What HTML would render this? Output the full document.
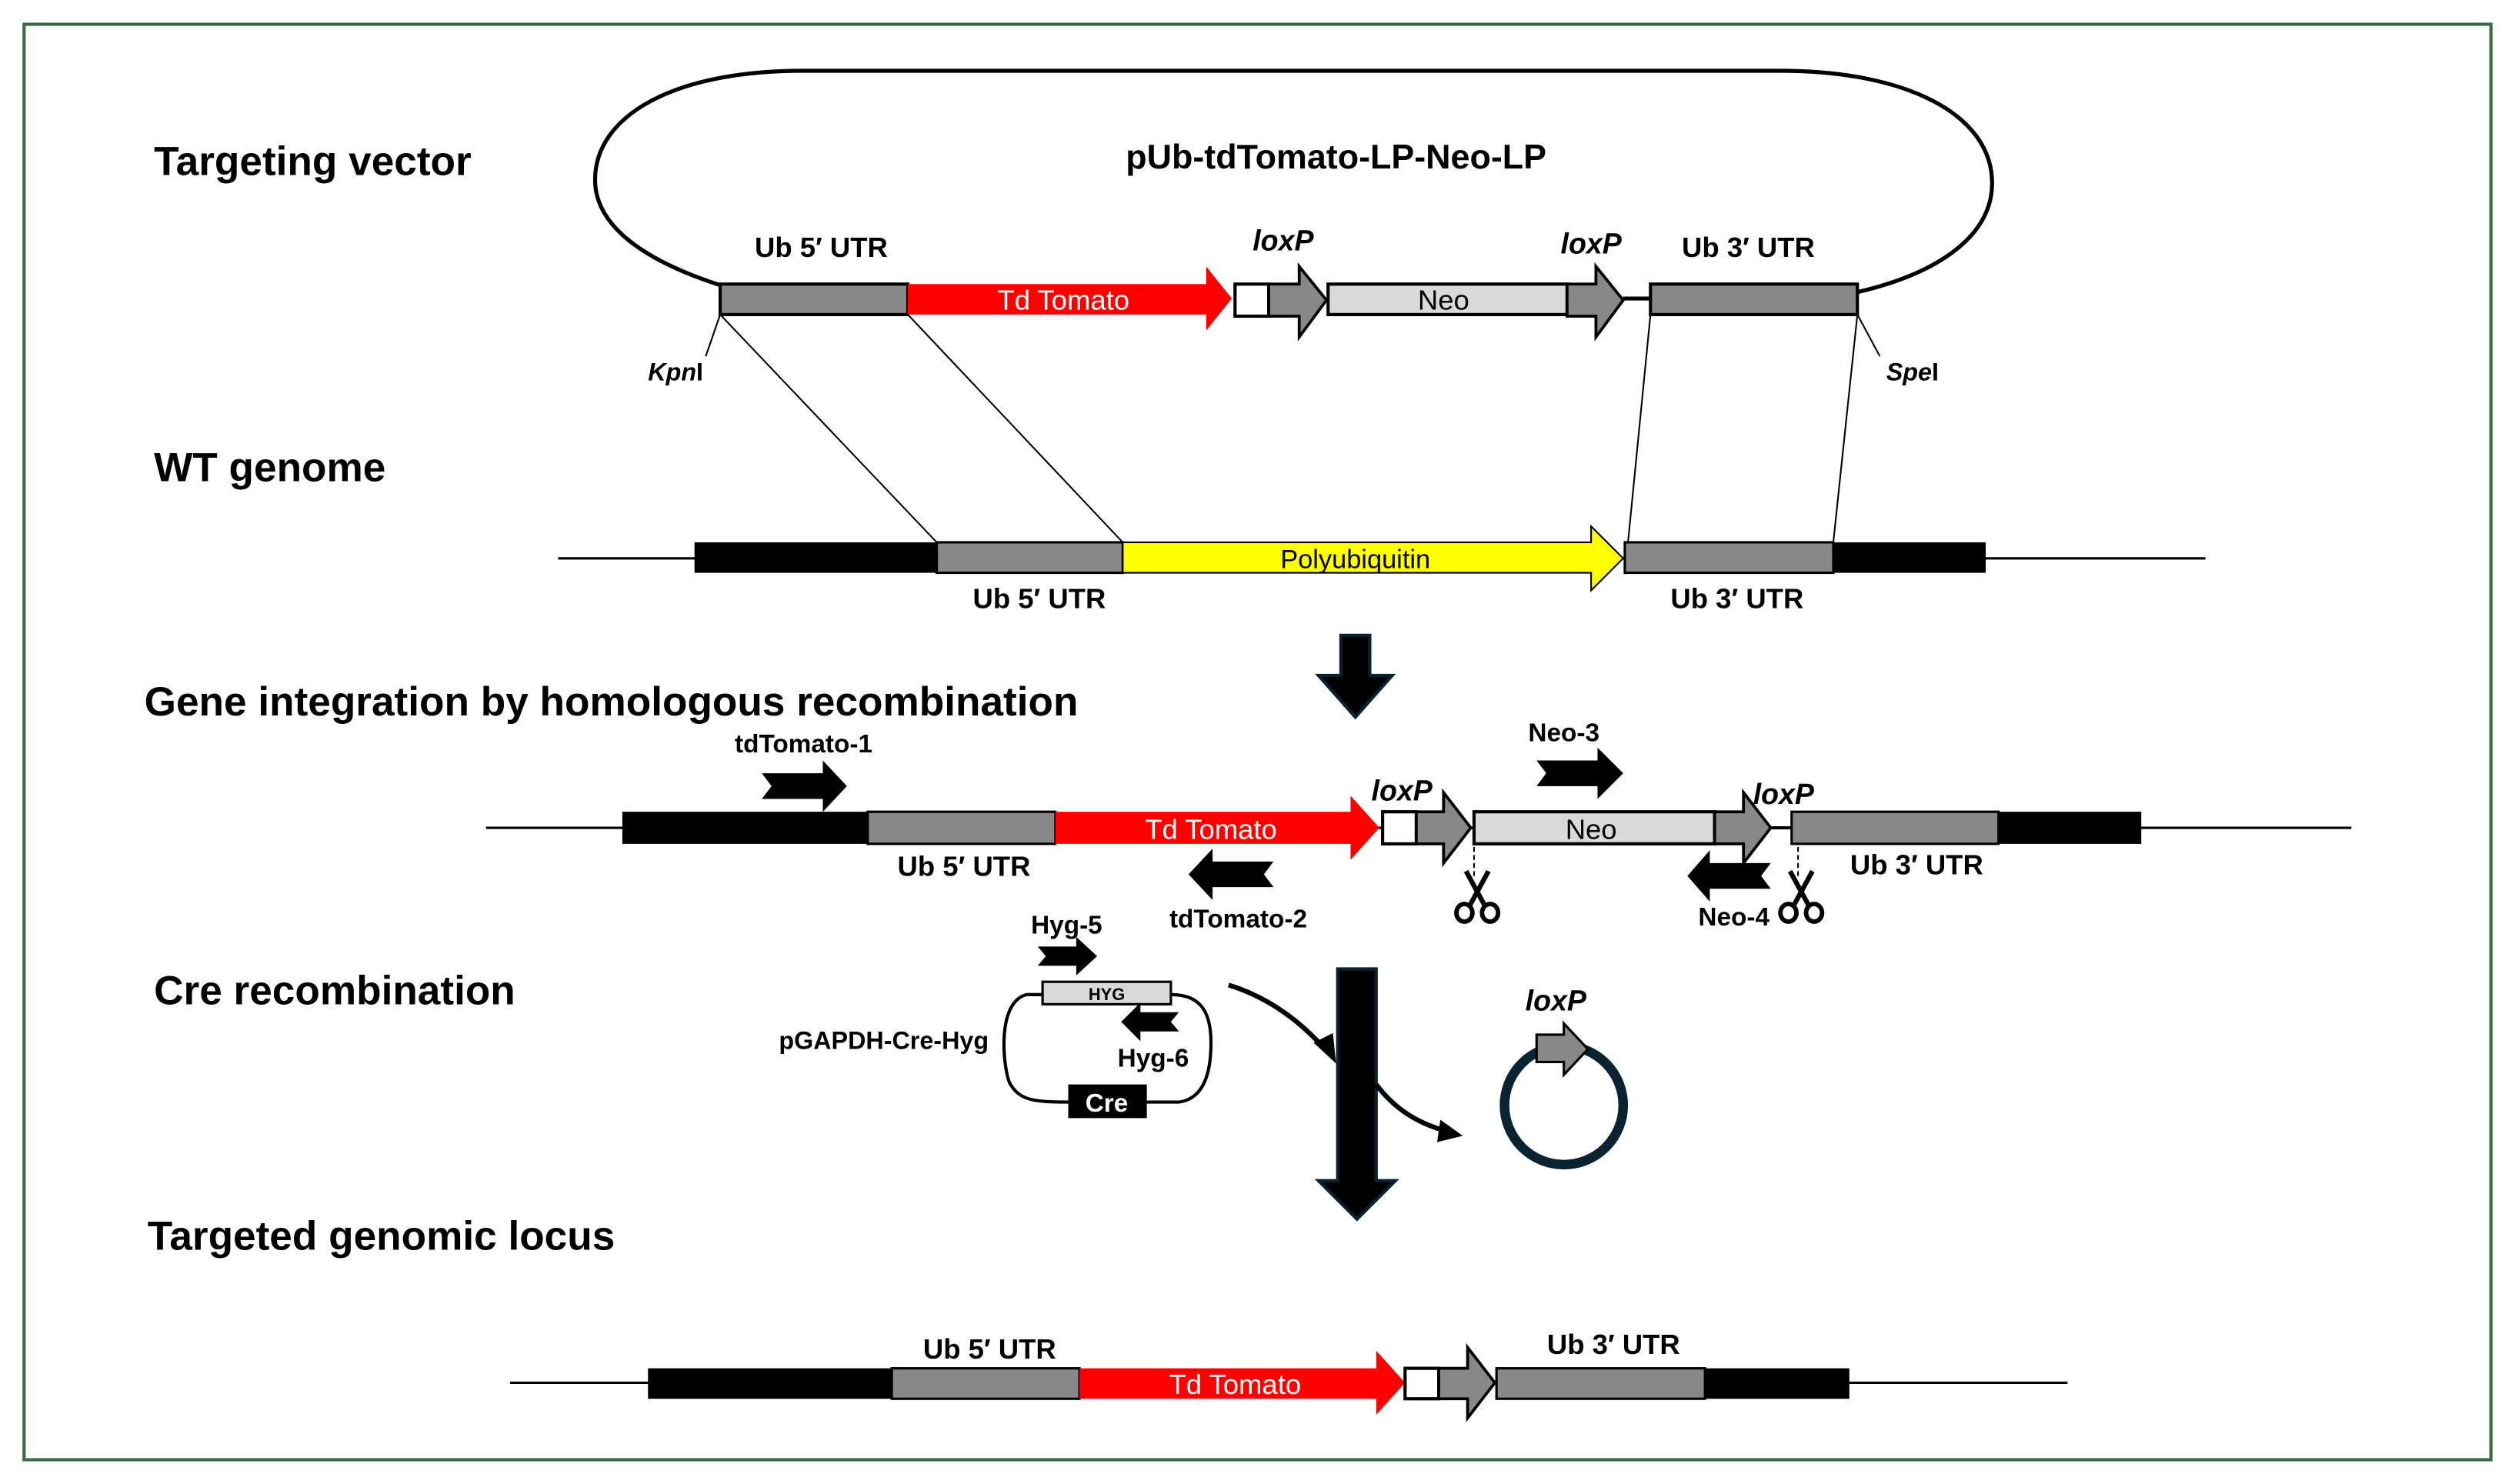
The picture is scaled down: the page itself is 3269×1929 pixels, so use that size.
<!DOCTYPE html>
<html><head><meta charset="utf-8"><style>
html,body{margin:0;padding:0;background:#fff}
svg{display:block}
text{font-family:"Liberation Sans",Arial,sans-serif}
.t{font-size:25.5px;font-weight:bold}
.l{font-size:17.5px;font-weight:bold}
.p{font-size:16px;font-weight:bold}
.i{font-size:18px;font-weight:bold;font-style:italic}
</style></head><body>
<svg width="3269" height="1929" viewBox="0 0 1568 925" xmlns="http://www.w3.org/2000/svg">
<defs>
<g id="sc">
 <line x1="-7" y1="-16" x2="5" y2="6" stroke="#000" stroke-width="3"/>
 <line x1="7" y1="-16" x2="-5" y2="6" stroke="#000" stroke-width="3"/>
 <ellipse cx="-8" cy="10" rx="5" ry="5.5" fill="none" stroke="#000" stroke-width="2.8"/>
 <ellipse cx="8" cy="10" rx="5" ry="5.5" fill="none" stroke="#000" stroke-width="2.8"/>
</g>
</defs>
<rect x="0" y="0" width="1568" height="925" fill="#fff"/>
<rect x="15" y="15" width="1538" height="895" fill="none" stroke="#3a6b45" stroke-width="2"/>

<text class="t" x="96" y="109">Targeting vector</text>
<text class="t" x="96" y="300">WT genome</text>
<text class="t" x="90" y="446">Gene integration by homologous recombination</text>
<text class="t" x="96" y="626">Cre recombination</text>
<text class="t" x="92" y="779">Targeted genomic locus</text>

<path d="M450,178 C400,162 371,140 371,112 C371,72 420,44 500,44 L1110,44 C1190,44 1242,72 1242,114 C1242,146 1210,170 1158,182" fill="none" stroke="#000" stroke-width="2.5"/>
<text x="833" y="105" text-anchor="middle" style="font-size:21.5px;font-weight:bold">pUb-tdTomato-LP-Neo-LP</text>
<text class="l" x="512" y="160" text-anchor="middle">Ub 5′ UTR</text>
<text class="i" x="800" y="156" text-anchor="middle">loxP</text>
<text class="i" x="992" y="158" text-anchor="middle">loxP</text>
<text class="l" x="1090" y="160" text-anchor="middle">Ub 3′ UTR</text>
<rect x="449" y="177" width="117" height="19" fill="#888" stroke="#000" stroke-width="2"/>
<polygon points="566,177 752,177 752,166 768,186 752,206 752,196 566,196" fill="#f00"/>
<text x="663" y="193" text-anchor="middle" fill="#fff" style="font-size:17.5px">Td Tomato</text>
<rect x="770" y="177" width="21" height="20" fill="#fff" stroke="#000" stroke-width="2"/>
<polygon points="791,177 810,177 810,166 827,187 810,210 810,197 791,197" fill="#888" stroke="#000" stroke-width="1.8"/>
<rect x="828" y="177" width="149" height="19" fill="#d9d9d9" stroke="#000" stroke-width="2"/>
<text x="900" y="193" text-anchor="middle" style="font-size:17.5px">Neo</text>
<polygon points="977,177 995,177 995,166 1012,187 995,210 995,197 977,197" fill="#888" stroke="#000" stroke-width="1.8"/>
<line x1="1012" y1="186" x2="1029" y2="186" stroke="#000" stroke-width="2.5"/>
<rect x="1029" y="177" width="129" height="19" fill="#888" stroke="#000" stroke-width="2"/>
<line x1="449" y1="196" x2="440" y2="222" stroke="#000" stroke-width="1"/>
<line x1="1158" y1="196" x2="1172" y2="222" stroke="#000" stroke-width="1"/>
<text x="404" y="237" style="font-size:15.5px;font-weight:bold"><tspan font-style="italic">Kpn</tspan>I</text>
<text x="1176" y="237" style="font-size:15.5px;font-weight:bold"><tspan font-style="italic">Spe</tspan>I</text>
<g stroke="#000" stroke-width="1">
<line x1="449" y1="196" x2="584" y2="338"/>
<line x1="566" y1="196" x2="700" y2="338"/>
<line x1="1029" y1="196" x2="1015" y2="338"/>
<line x1="1158" y1="196" x2="1143" y2="338"/>
</g>

<line x1="348" y1="348" x2="1375" y2="348" stroke="#000" stroke-width="1.5"/>
<rect x="433" y="338" width="151" height="19" fill="#000"/>
<rect x="584" y="338" width="116" height="19" fill="#888" stroke="#000" stroke-width="1.5"/>
<polygon points="700,338 992,338 992,328 1012,348 992,368 992,357 700,357" fill="#ff0" stroke="#000" stroke-width="1"/>
<text x="845" y="354" text-anchor="middle" style="font-size:16.5px">Polyubiquitin</text>
<rect x="1013" y="338" width="130" height="19" fill="#888" stroke="#000" stroke-width="1.5"/>
<rect x="1143" y="338" width="95" height="19" fill="#000"/>
<text class="l" x="648" y="379" text-anchor="middle">Ub 5′ UTR</text>
<text class="l" x="1083" y="379" text-anchor="middle">Ub 3′ UTR</text>

<polygon points="836,396 854,396 854,421 868,421 845,447 822,421 836,421" fill="#000" stroke="#0a2230" stroke-width="2"/>

<line x1="303" y1="516" x2="1466" y2="516" stroke="#000" stroke-width="1.5"/>
<rect x="388" y="506" width="153" height="20" fill="#000"/>
<rect x="541" y="506" width="117" height="20" fill="#888" stroke="#000" stroke-width="1.5"/>
<polygon points="658,506 842,506 842,496 860,516 842,536 842,526 658,526" fill="#f00"/>
<text x="755" y="523" text-anchor="middle" fill="#fff" style="font-size:17.5px">Td Tomato</text>
<rect x="862" y="506" width="21" height="20" fill="#fff" stroke="#000" stroke-width="2"/>
<polygon points="883,506 900,506 900,494 917,516 900,538 900,526 883,526" fill="#888" stroke="#000" stroke-width="1.8"/>
<rect x="919" y="506" width="150" height="20" fill="#d9d9d9" stroke="#000" stroke-width="2"/>
<text x="992" y="523" text-anchor="middle" style="font-size:17.5px">Neo</text>
<polygon points="1069,506 1087,506 1087,494 1104,516 1087,538 1087,526 1069,526" fill="#888" stroke="#000" stroke-width="1.8"/>
<line x1="1104" y1="516" x2="1117" y2="516" stroke="#000" stroke-width="2"/>
<rect x="1117" y="506" width="129" height="20" fill="#888" stroke="#000" stroke-width="1.5"/>
<rect x="1246" y="506" width="89" height="20" fill="#000"/>
<text class="p" x="501" y="469" text-anchor="middle">tdTomato-1</text>
<polygon points="475,482 513,482 513,474 528,490 513,506 513,498 475,498 481,490" fill="#000"/>
<text class="l" x="601" y="546" text-anchor="middle">Ub 5′ UTR</text>
<polygon points="794,537 756,537 756,529 741,545 756,561 756,553 794,553 788,545" fill="#000"/>
<text class="p" x="772" y="578" text-anchor="middle">tdTomato-2</text>
<text class="i" x="874" y="499" text-anchor="middle">loxP</text>
<text class="i" x="1112" y="501" text-anchor="middle">loxP</text>
<text class="p" x="975" y="462" text-anchor="middle">Neo-3</text>
<polygon points="958,474 996,474 996,466 1012,482 996,498 996,490 958,490 964,482" fill="#000"/>
<polygon points="1104,538 1066,538 1066,530 1052,546 1066,562 1066,554 1104,554 1098,546" fill="#000"/>
<text class="p" x="1081" y="577" text-anchor="middle">Neo-4</text>
<text class="l" x="1195" y="545" text-anchor="middle">Ub 3′ UTR</text>
<line x1="919" y1="528" x2="919" y2="548" stroke="#000" stroke-width="1" stroke-dasharray="3,2"/>
<line x1="1121" y1="528" x2="1121" y2="548" stroke="#000" stroke-width="1" stroke-dasharray="3,2"/>
<use href="#sc" x="921" y="559"/>
<use href="#sc" x="1123" y="559"/>

<path d="M650,620 L640,620 C620,625 626,670 630,676 C636,686 645,687 666,687 M715,687 L735,687 C750,685 755,670 755,650 C755,630 748,620 730,620" fill="none" stroke="#000" stroke-width="2"/>
<rect x="650" y="612" width="80" height="14" fill="#d9d9d9" stroke="#000" stroke-width="1.5"/>
<text x="690" y="623.5" text-anchor="middle" style="font-size:10.5px;font-weight:bold">HYG</text>
<rect x="666" y="676" width="49" height="21" fill="#000"/>
<text x="690" y="693" text-anchor="middle" fill="#fff" style="font-size:16px;font-weight:bold">Cre</text>
<text class="p" x="665" y="582" text-anchor="middle">Hyg-5</text>
<polygon points="647,590 671,590 671,584 684,596 671,608 671,602 647,602 652,596" fill="#000"/>
<polygon points="735,631 711,631 711,625 699,637 711,649 711,643 735,643 730,637" fill="#000"/>
<text class="p" x="719" y="665" text-anchor="middle">Hyg-6</text>
<text x="551" y="654" text-anchor="middle" style="font-size:15.5px;font-weight:bold">pGAPDH-Cre-Hyg</text>

<polygon points="834,604 858,604 858,736 870,736 846,760 822,736 834,736" fill="#000" stroke="#0a2230" stroke-width="2"/>

<path d="M766,614 C792,622 812,638 826,654" fill="none" stroke="#000" stroke-width="3"/>
<polygon points="819,650 833,663 831,644" fill="#000"/>
<path d="M858,676 C870,692 885,701 905,706" fill="none" stroke="#000" stroke-width="3"/>
<polygon points="898,698 912,708 896,712" fill="#000"/>

<circle cx="975" cy="689" r="37" fill="none" stroke="#0a2330" stroke-width="6"/>
<polygon points="958,645 975,645 975,638 990,654 975,670 975,662 958,662" fill="#888" stroke="#000" stroke-width="1.5"/>
<text class="i" x="970" y="630" text-anchor="middle">loxP</text>

<line x1="318" y1="862" x2="1289" y2="862" stroke="#000" stroke-width="1.5"/>
<rect x="404" y="853" width="152" height="19" fill="#000"/>
<rect x="556" y="853" width="117" height="19" fill="#888" stroke="#000" stroke-width="1.5"/>
<polygon points="673,853 858,853 858,842 876,862 858,882 858,872 673,872" fill="#f00"/>
<text x="770" y="869" text-anchor="middle" fill="#fff" style="font-size:17.5px">Td Tomato</text>
<rect x="876" y="853" width="21" height="19" fill="#fff" stroke="#000" stroke-width="2"/>
<polygon points="897,853 915,853 915,840 932,862 915,884 915,872 897,872" fill="#888" stroke="#000" stroke-width="1.8"/>
<rect x="933" y="853" width="130" height="19" fill="#888" stroke="#000" stroke-width="1.5"/>
<rect x="1063" y="853" width="90" height="19" fill="#000"/>
<text class="l" x="617" y="847" text-anchor="middle">Ub 5′ UTR</text>
<text class="l" x="1006" y="844" text-anchor="middle">Ub 3′ UTR</text>
</svg>
</body></html>
